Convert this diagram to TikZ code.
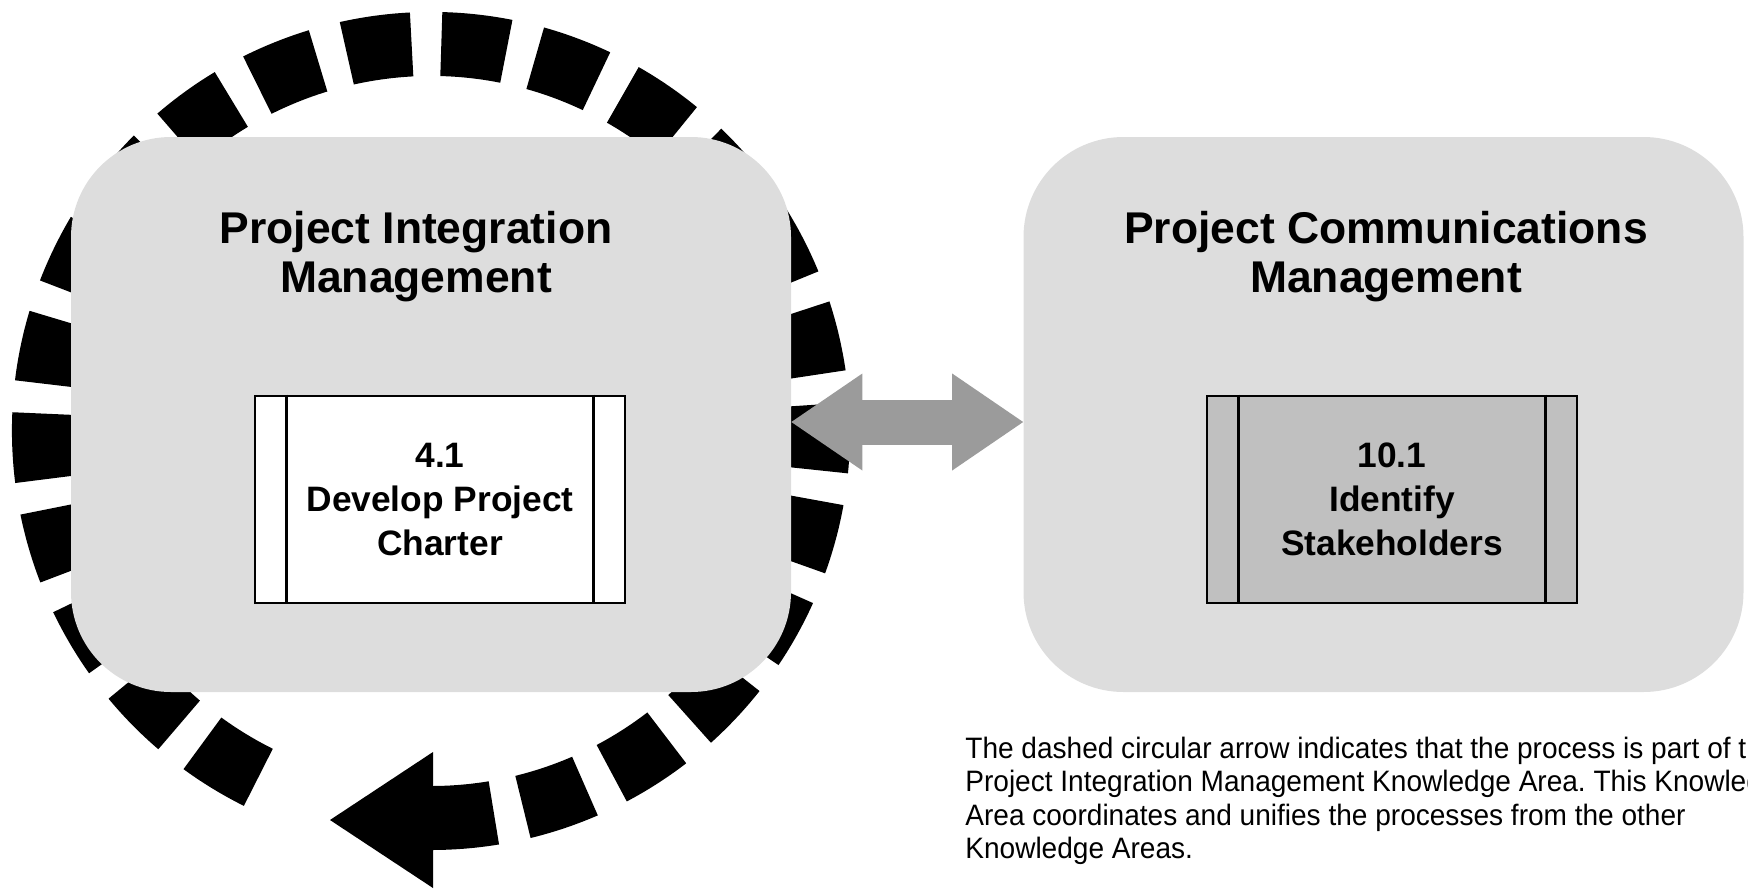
\documentclass[tikz,border=0pt]{standalone}
\usepackage{fontspec}
\setmainfont{Liberation Sans}
\newfontfamily\notefont[FakeStretch=0.95]{Liberation Sans}
\usepackage{xcolor}
\usetikzlibrary{arrows.meta}
\definecolor{areagray}{RGB}{221,221,221}
\definecolor{procgray}{RGB}{192,192,192}
\definecolor{linkgray}{RGB}{155,155,155}
\newcommand\katitlefont{\fontsize{25.3pt}{27.9pt}\selectfont\bfseries}
\newcommand\procfont{\fontsize{20.1pt}{25pt}\selectfont\bfseries}
\frenchspacing

\begin{document}
\begin{tikzpicture}[
    area/.style={fill=areagray, rounded corners=2cm, minimum width=14.4cm,
      minimum height=11.1cm, inner sep=0pt},
    katitle/.style={anchor=north, align=center, inner sep=0pt, font=\katitlefont},
    proc/.style={draw, line width=1.5pt, minimum width=7.4cm,
      minimum height=4.14cm, inner sep=0pt, align=center, font=\procfont},
    ringdash/.style={line width=1.28cm, dash pattern=on 1.31cm off 0.594cm},
    link/.style={linkgray, line width=0.9cm,
      {Triangle[length=1.42cm,width=1.94cm,line width=0pt]}-{Triangle[length=1.42cm,width=1.94cm,line width=0pt]}}
  ]
      \useasboundingbox (0, 0) rectangle (34.96, -17.78);

      \coordinate (Ring) at (8.62, -8.62);
      \coordinate (Int) at (8.62, -8.29);
      \coordinate (Com) at (27.67, -8.29);
      \coordinate (Intt) at (8.32, -4.21);
      \coordinate (Comt) at (27.72, -4.21);
      \coordinate (Intp) at (8.80, -9.99);
      \coordinate (Comp) at (27.84, -9.99);
      \coordinate (Note) at (19.30, -14.73);

      \draw[ringdash] (Ring) ++(243.5:7.74) arc[start angle=243.5, end angle=-90, radius=7.74];
      \fill (Ring) ++(-2.02, -7.78) -- ++(2.06, 1.36) -- ++(0, -2.72) -- cycle;

      \node[area] (pim) at (Int) {};
      \node[area] (pcm) at (Com) {};

      \node[katitle] (pimt) at (Intt) {Project Integration\\Management};
      \node[katitle] (pcmt) at (Comt) {Project Communications\\Management};

      \node[proc, fill=white] (p41) at (Intp) {4.1\\Develop Project\\Charter};
      \node[proc, fill=procgray] (p101) at (Comp) {10.1\\Identify\\Stakeholders};

      \draw[line width=1.5pt] ([xshift=0.66cm]p41.north west) -- ([xshift=0.66cm]p41.south west);
      \draw[line width=1.5pt] ([xshift=-0.66cm]p41.north east) -- ([xshift=-0.66cm]p41.south east);
      \draw[line width=1.5pt] ([xshift=0.66cm]p101.north west) -- ([xshift=0.66cm]p101.south west);
      \draw[line width=1.5pt] ([xshift=-0.66cm]p101.north east) -- ([xshift=-0.66cm]p101.south east);

      \draw[link] ([yshift=-0.15cm]pim.east) -- ([yshift=-0.15cm]pcm.west);

      \node[anchor=north west, align=left, inner sep=0pt,
        font=\notefont\fontsize{16.8pt}{19pt}\selectfont] (note) at (Note)
        {The dashed circular arrow indicates that the process is part of the\\
         Project Integration Management Knowledge Area. This Knowledge\\
         Area coordinates and unifies the processes from the other\\
         Knowledge Areas.};
\end{tikzpicture}
\end{document}
